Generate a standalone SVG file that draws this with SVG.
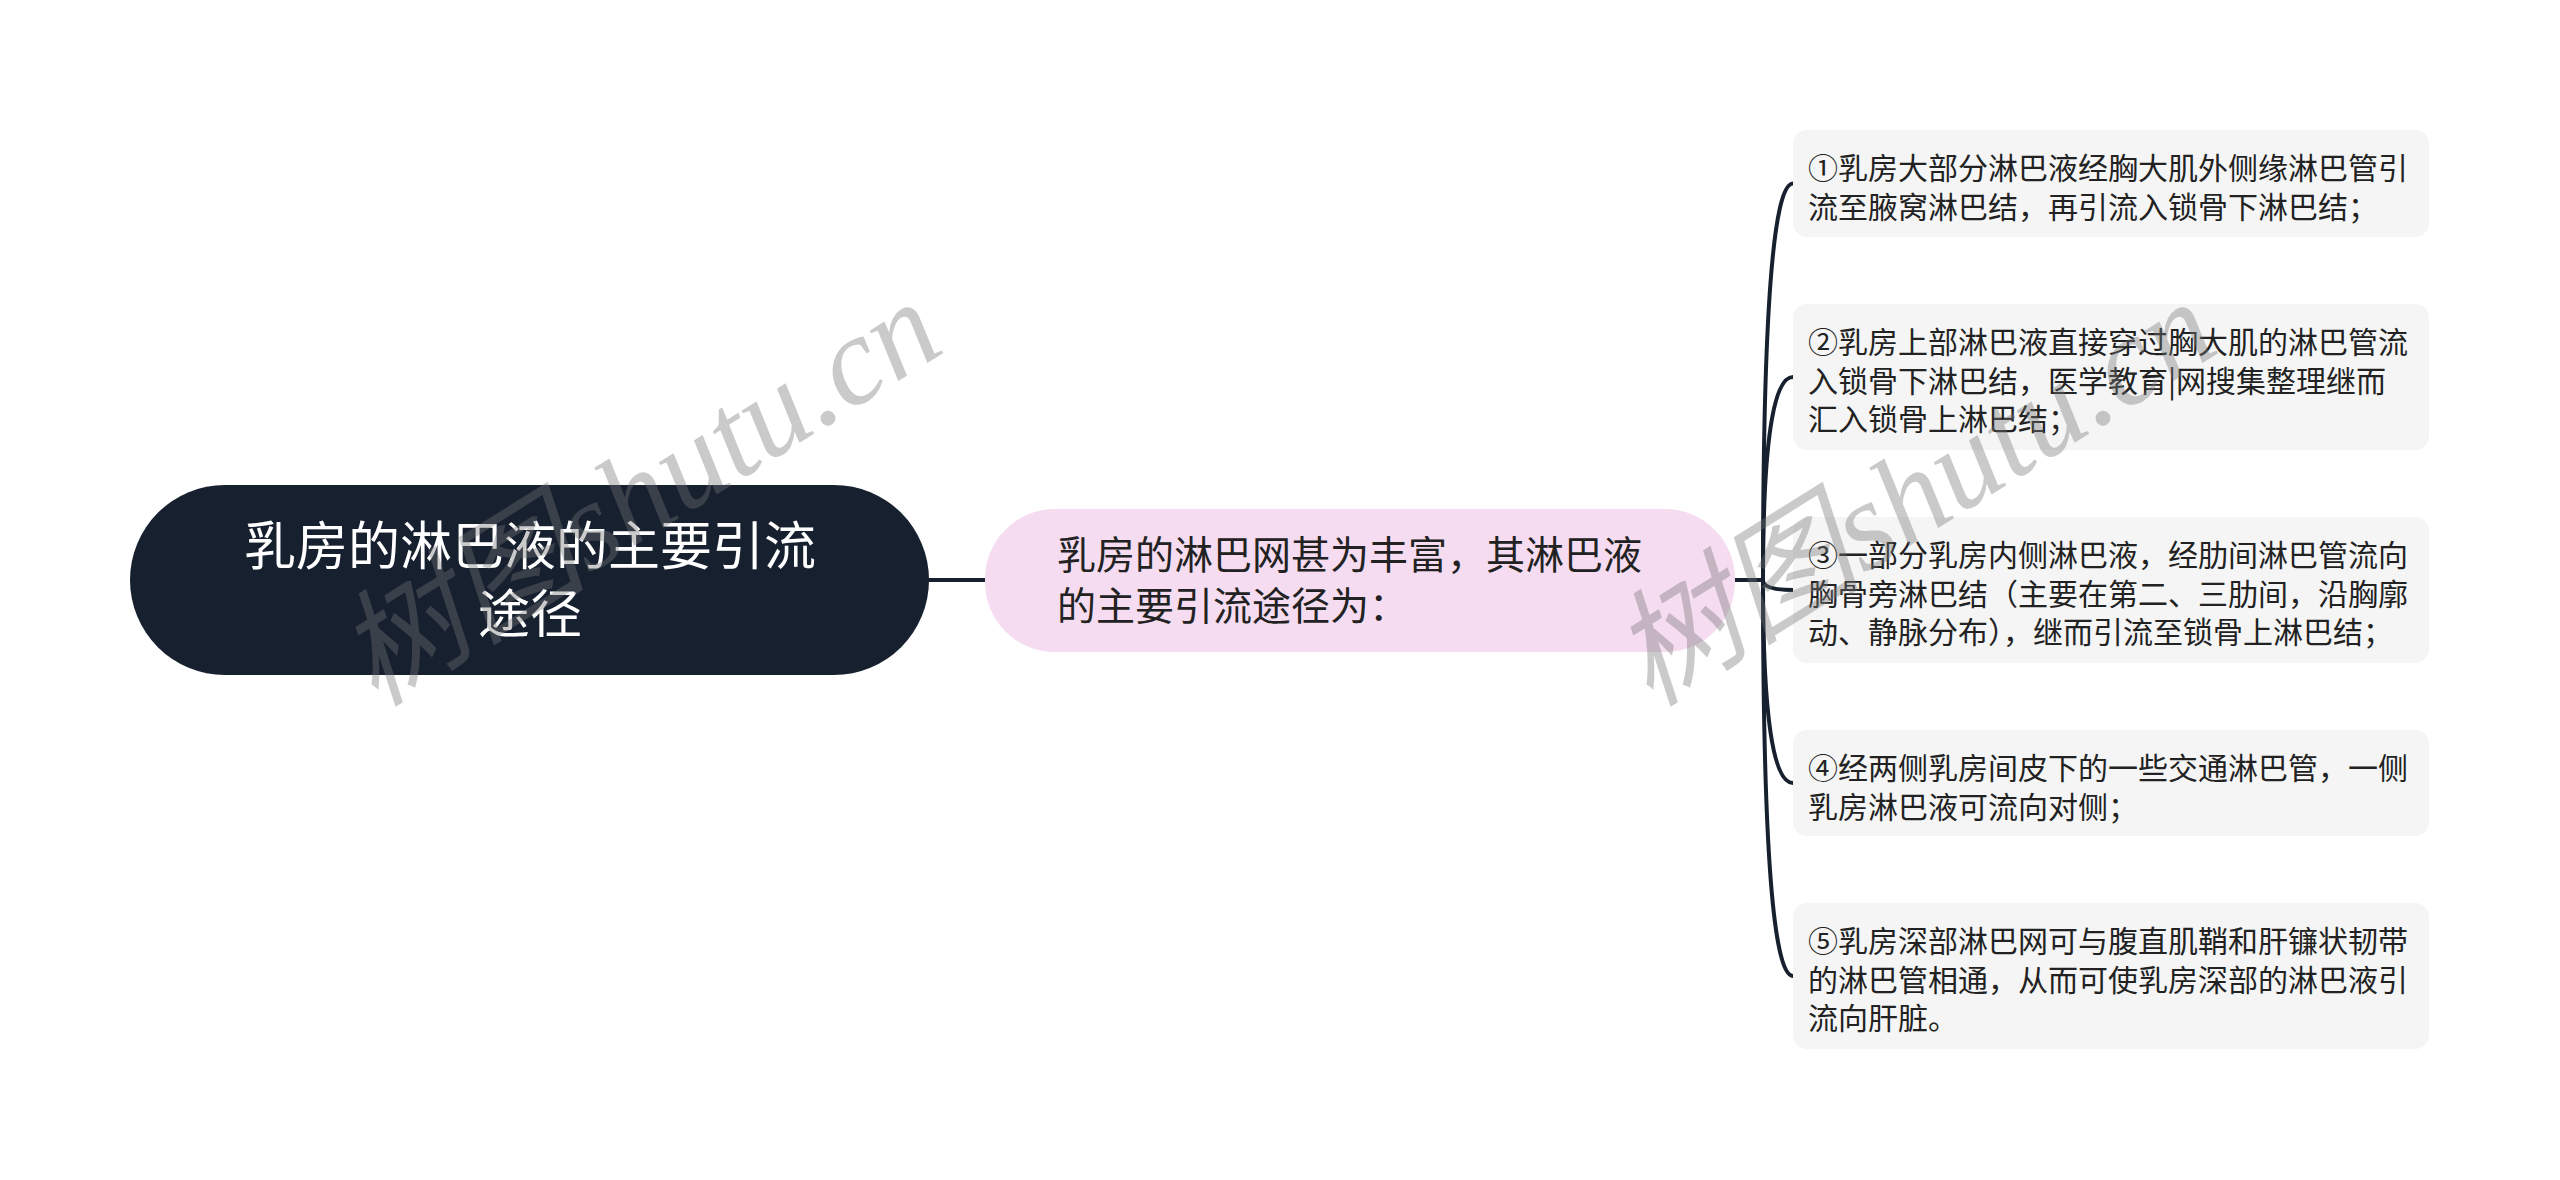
<svg xmlns="http://www.w3.org/2000/svg" width="2560" height="1180" viewBox="0 0 2560 1180">
<style>
.root-box{fill:#16202f}
.mid-box{fill:#f5dcf0}
.leaf-box{fill:#f5f5f5}
.root-t{font-family:"Noto Sans CJK SC","Noto Sans",sans-serif;font-size:52px;fill:#ffffff}
.mid-t{font-family:"Noto Sans CJK SC","Noto Sans",sans-serif;font-size:39px;fill:#222222}
.leaf-t{font-family:"Noto Sans CJK SC","Noto Sans",sans-serif;font-size:30px;fill:#222222}
.conn{fill:none;stroke:#16202f;stroke-width:4;stroke-linecap:round}
.wm{font-family:"Liberation Serif","Noto Sans CJK SC",serif;font-style:italic;font-size:126px;fill:#767676;opacity:0.38}
</style>
<rect width="2560" height="1180" fill="#ffffff"/>
<g id="connectors">
<path class="conn" d="M 929 580 L 985 580"/>
<path class="conn" d="M 1735 580 L 1763 580"/>
<path class="conn" d="M 1763 580 Q 1763 183.5 1793 183.5"/>
<path class="conn" d="M 1763 580 Q 1763 377 1793 377"/>
<path class="conn" d="M 1763 580 Q 1763 590 1793 590"/>
<path class="conn" d="M 1763 580 Q 1763 783 1793 783"/>
<path class="conn" d="M 1763 580 Q 1763 976 1793 976"/>
</g>
<g id="root">
<rect class="root-box" x="130" y="485" width="799" height="190" rx="95" ry="95"/>
<text class="root-t" x="530" y="565" text-anchor="middle">乳房的淋巴液的主要引流</text>
<text class="root-t" x="530" y="633" text-anchor="middle">途径</text>
</g>
<g id="mid">
<rect class="mid-box" x="985" y="509" width="750" height="143" rx="70" ry="70"/>
<text class="mid-t" x="1057" y="569">乳房的淋巴网甚为丰富，其淋巴液</text>
<text class="mid-t" x="1057" y="620">的主要引流途径为：</text>
</g>
<g id="leaf1">
<rect class="leaf-box" x="1793" y="130" width="636" height="107" rx="14" ry="14"/>
<text class="leaf-t" x="1808" y="179">①乳房大部分淋巴液经胸大肌外侧缘淋巴管引</text>
<text class="leaf-t" x="1808" y="217.5">流至腋窝淋巴结，再引流入锁骨下淋巴结；</text>
</g>
<g id="leaf2">
<rect class="leaf-box" x="1793" y="304" width="636" height="146" rx="14" ry="14"/>
<text class="leaf-t" x="1808" y="353">②乳房上部淋巴液直接穿过胸大肌的淋巴管流</text>
<text class="leaf-t" x="1808" y="391.5">入锁骨下淋巴结，医学教育|网搜集整理继而</text>
<text class="leaf-t" x="1808" y="430">汇入锁骨上淋巴结；</text>
</g>
<g id="leaf3">
<rect class="leaf-box" x="1793" y="517" width="636" height="146" rx="14" ry="14"/>
<text class="leaf-t" x="1808" y="566">③一部分乳房内侧淋巴液，经肋间淋巴管流向</text>
<text class="leaf-t" x="1808" y="604.5">胸骨旁淋巴结（主要在第二、三肋间，沿胸廓</text>
<text class="leaf-t" x="1808" y="643">动、静脉分布），继而引流至锁骨上淋巴结；</text>
</g>
<g id="leaf4">
<rect class="leaf-box" x="1793" y="730" width="636" height="106" rx="14" ry="14"/>
<text class="leaf-t" x="1808" y="779">④经两侧乳房间皮下的一些交通淋巴管，一侧</text>
<text class="leaf-t" x="1808" y="817.5">乳房淋巴液可流向对侧；</text>
</g>
<g id="leaf5">
<rect class="leaf-box" x="1793" y="903" width="636" height="146" rx="14" ry="14"/>
<text class="leaf-t" x="1808" y="952">⑤乳房深部淋巴网可与腹直肌鞘和肝镰状韧带</text>
<text class="leaf-t" x="1808" y="990.5">的淋巴管相通，从而可使乳房深部的淋巴液引</text>
<text class="leaf-t" x="1808" y="1029">流向肝脏。</text>
</g>
<g id="watermarks">
<text class="wm" x="375" y="708" transform="rotate(-32 375 708)">树图shutu.cn</text>
<text class="wm" x="1650" y="708" transform="rotate(-32 1650 708)">树图shutu.cn</text>
</g>
</svg>
